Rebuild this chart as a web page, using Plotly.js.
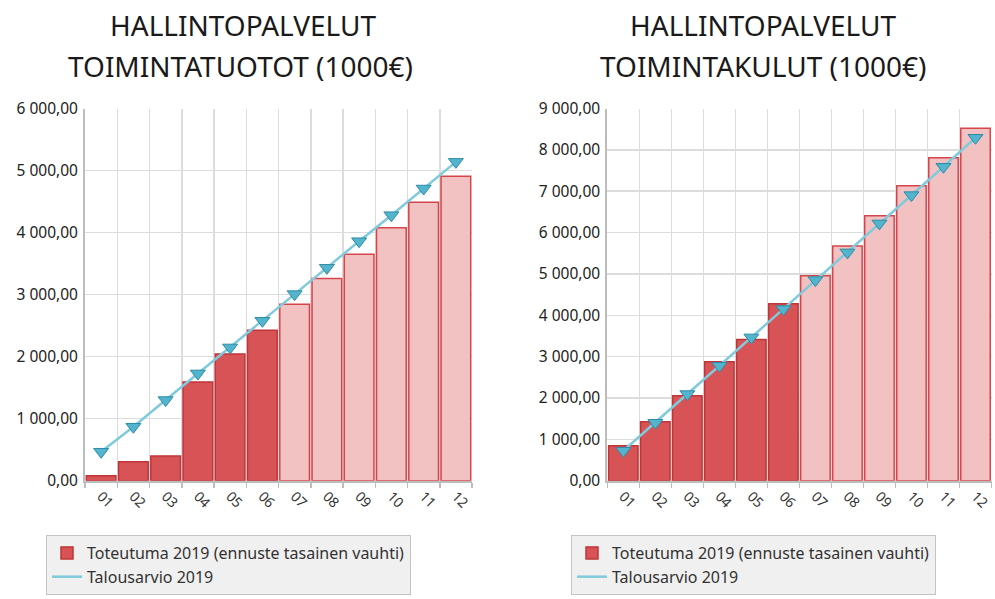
<!DOCTYPE html>
<html>
<head>
<meta charset="utf-8">
<script src="https://cdn.plot.ly/plotly-3.0.1.min.js"></script>
<style>html,body{margin:0;padding:0;background:#fff;}#chart{width:995px;height:599px;}</style>
</head>
<body>
<div id="chart"></div>
<script>
// ---- data ----
const months = ['01','02','03','04','05','06','07','08','09','10','11','12'];
const realizedMonths = 6; // months 01-06 realized, 07-12 forecast
const tuototActual = [80, 306, 397, 1590, 2041, 2427, 2846, 3260, 3652, 4076, 4490, 4909];
const tuototBudget = [467, 870, 1300, 1729, 2148, 2578, 3008, 3432, 3861, 4280, 4710, 5140];
const kulutActual = [846, 1426, 2055, 2877, 3417, 4279, 4956, 5673, 6406, 7131, 7808, 8525];
const kulutBudget = [725, 1402, 2095, 2780, 3465, 4150, 4851, 5520, 6221, 6906, 7591, 8292];
const titleLeftLines = ['HALLINTOPALVELUT', 'TOIMINTATUOTOT (1000€)'];
const titleRightLines = ['HALLINTOPALVELUT', 'TOIMINTAKULUT (1000€)'];
const nameActual = 'Toteutuma 2019 (ennuste tasainen vauhti)';
const nameBudget = 'Talousarvio 2019';

// ---- styles ----
const FONT = 'Noto Sans, Open Sans, DejaVu Sans, sans-serif';
const fillColors = months.map((m, i) => i < realizedMonths ? '#d85355' : '#f2c2c2');
const lineColors = months.map((m, i) => i < realizedMonths ? '#bf3539' : '#d6454b');

function barTrace(y, xa, ya, leg) {
  return {
    type: 'bar', x: months, y: y, xaxis: xa, yaxis: ya, name: nameActual,
    legend: leg, showlegend: true,
    marker: {color: fillColors, line: {color: lineColors, width: 1.5}},
    hoverinfo: 'skip'
  };
}
function lineTrace(y, xa, ya, leg) {
  return {
    type: 'scatter', mode: 'lines', x: months, y: y, xaxis: xa, yaxis: ya,
    name: nameBudget, legend: leg, showlegend: true,
    line: {color: '#7fcadb', width: 2.5},
    hoverinfo: 'skip'
  };
}
function markerTrace(y, xa, ya) {
  return {
    type: 'scatter', mode: 'markers', x: months, y: y, xaxis: xa, yaxis: ya,
    name: nameBudget, showlegend: false,
    marker: {symbol: 'triangle-down', size: 13, color: '#52b4cd', line: {color: '#2f8ba6', width: 1}},
    hoverinfo: 'skip'
  };
}

const data = [
  barTrace(tuototActual, 'x', 'y', 'legend'),
  lineTrace(tuototBudget, 'x', 'y', 'legend'),
  markerTrace(tuototBudget, 'x', 'y'),
  barTrace(kulutActual, 'x2', 'y2', 'legend2'),
  lineTrace(kulutBudget, 'x2', 'y2', 'legend2'),
  markerTrace(kulutBudget, 'x2', 'y2')
];

function xAxis(domain, anchor) {
  return {
    type: 'category', domain: domain, anchor: anchor, tickson: 'boundaries',
    range: [-0.5, months.length - 0.5], autorange: false,
    showgrid: true, gridcolor: '#dcdcdc', gridwidth: 1.5,
    showline: true, linecolor: '#bdbdbd', linewidth: 2,
    ticks: 'outside', ticklen: 5, tickcolor: '#bdbdbd', tickwidth: 1.5,
    tickangle: 45, tickfont: {family: FONT, size: 14, color: '#333'},
    fixedrange: true, automargin: false
  };
}
function yAxis(domain, anchor, max) {
  return {
    domain: domain, anchor: anchor, range: [0, max], dtick: 1000, tick0: 0,
    tickformat: ',.2f', showgrid: true, gridcolor: '#dcdcdc', gridwidth: 1.5,
    showline: true, linecolor: '#bdbdbd', linewidth: 2, zeroline: false,
    ticks: '', tickfont: {family: FONT, size: 15.5, color: '#222'},
    ticklabelstandoff: 2, fixedrange: true, automargin: false
  };
}

const W = 995, H = 599;
const yDom = [1 - 480.7 / H, 1 - 108.5 / H];
function legendCfg(x) {
  return {
    x: x / W, y: 1 - 535 / H, xanchor: 'left', yanchor: 'top',
    bgcolor: '#f0f0f0', bordercolor: '#c4c4c4', borderwidth: 1,
    font: {family: FONT, size: 16, color: '#333'}, tracegroupgap: 0, itemwidth: 30
  };
}
function titleAnn(text, x, y) {
  return {text: text, x: x / W, y: 1 - y / H, xref: 'paper', yref: 'paper',
    xanchor: 'center', yanchor: 'middle', showarrow: false,
    font: {family: FONT, size: 28, color: '#1a1a1a'}};
}
const layout = {
  width: W, height: H,
  margin: {l: 0, r: 0, t: 0, b: 0, autoexpand: false},
  paper_bgcolor: '#ffffff', plot_bgcolor: '#ffffff',
  separators: ', ',
  bargap: 0.08,
  font: {family: FONT, color: '#222'},
  xaxis: xAxis([85 / W, 472 / W], 'y'),
  yaxis: yAxis(yDom, 'x', 6000),
  xaxis2: xAxis([607.3 / W, 991.5 / W], 'y2'),
  yaxis2: yAxis(yDom, 'x2', 9000),
  legend: legendCfg(46),
  legend2: legendCfg(571),
  annotations: [
    titleAnn(titleLeftLines[0], 243, 25),
    titleAnn(titleLeftLines[1], 240, 66),
    titleAnn(titleRightLines[0], 763, 25),
    titleAnn(titleRightLines[1], 763, 66)
  ]
};

Plotly.newPlot('chart', data, layout, {staticPlot: true, displayModeBar: false});
</script>
</body>
</html>
